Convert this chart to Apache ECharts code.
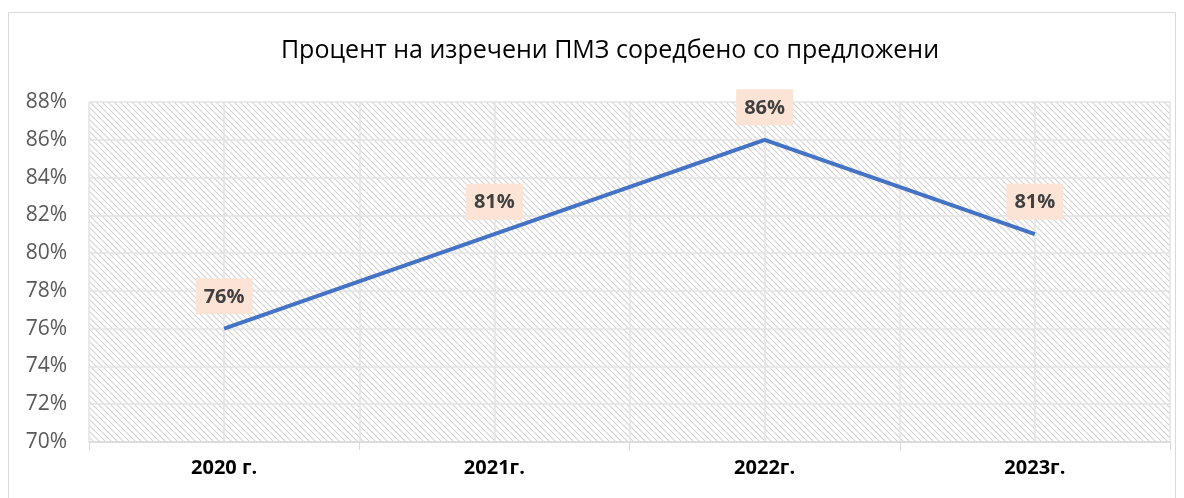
<!DOCTYPE html>
<html><head><meta charset="utf-8">
<script src="https://cdn.jsdelivr.net/npm/echarts@6/dist/echarts.min.js"></script>
<style>html,body{margin:0;padding:0;background:#fff}#c{width:1184px;height:498px}</style>
</head><body><div id="c"></div>
<script>
const titleText = 'Процент на изречени ПМЗ соредбено со предложени';
const categories = ['2020 г.', '2021г.', '2022г.', '2023г.'];
const values = [76, 81, 86, 81];
const yMin = 70, yMax = 88, yStep = 2;

function hatch() {
  const c = document.createElement('canvas');
  c.width = 6; c.height = 6;
  const g = c.getContext('2d');
  g.fillStyle = '#ffffff'; g.fillRect(0,0,6,6);
  g.strokeStyle = '#d4d4d4'; g.lineWidth = 1.2;
  g.beginPath();
  g.moveTo(0,0); g.lineTo(6,6);
  g.moveTo(-3,3); g.lineTo(3,9);
  g.moveTo(3,-3); g.lineTo(9,3);
  g.stroke();
  return c;
}
const FONT = 'Open Sans, Noto Sans, sans-serif';
const chart = echarts.init(document.getElementById('c'), null, {renderer:'canvas'});
chart.setOption({
  animation: false,
  graphic: [{type:'rect', shape:{x:8.5,y:12.5,width:1167,height:500}, style:{fill:'none', stroke:'#d9d9d9', lineWidth:1}}],
  title: {text: titleText, left: 605, top: 33, textAlign:'center',
    textStyle:{fontFamily:FONT, fontSize:25, fontWeight:'normal', color:'#000'}},
  grid: {left: 89, right: 14, top: 102, bottom: 56, show: true, backgroundColor: {image: hatch(), repeat:'repeat'}, borderWidth: 0},
  xAxis: [{
    type:'category', data: categories, boundaryGap: true,
    axisLine:{show:true, lineStyle:{color:'#d9d9d9', width:1.5}},
    axisTick:{show:true, length:8, lineStyle:{color:'#d9d9d9'}},
    splitLine:{show:false},
    axisLabel:{margin:16, fontFamily:FONT, fontSize:20, fontWeight:'bold', color:'#000'}
  },{
    type:'value', min:0, max:8, interval:1, position:'bottom',
    axisLine:{show:false}, axisTick:{show:false}, axisLabel:{show:false},
    splitLine:{show:true, lineStyle:{color:'#e3e3e3', width:1.5}}
  }],
  yAxis: {
    type:'value', min:yMin, max:yMax, interval:yStep,
    axisLine:{show:false}, axisTick:{show:false},
    splitLine:{lineStyle:{color:'#e3e3e3', width:1.5}},
    axisLabel:{formatter:'{value}%', margin:22, fontFamily:FONT, fontSize:21, color:'#595959'}
  },
  series: [{
    type:'line', data: values, xAxisIndex:0,
    symbol:'circle', symbolSize:1, showSymbol:true,
    itemStyle:{color:'rgba(68,114,196,0)', borderWidth:0},
    lineStyle:{color:'#4472C4', width:4},
    label:{show:true, position:'top', distance:14, formatter:'{c}%',
      fontFamily:FONT, fontSize:20, fontWeight:'bold', color:'#404040',
      backgroundColor:'#FBE3D5', padding:[9,8,7,8]}
  }]
});
</script></body></html>
